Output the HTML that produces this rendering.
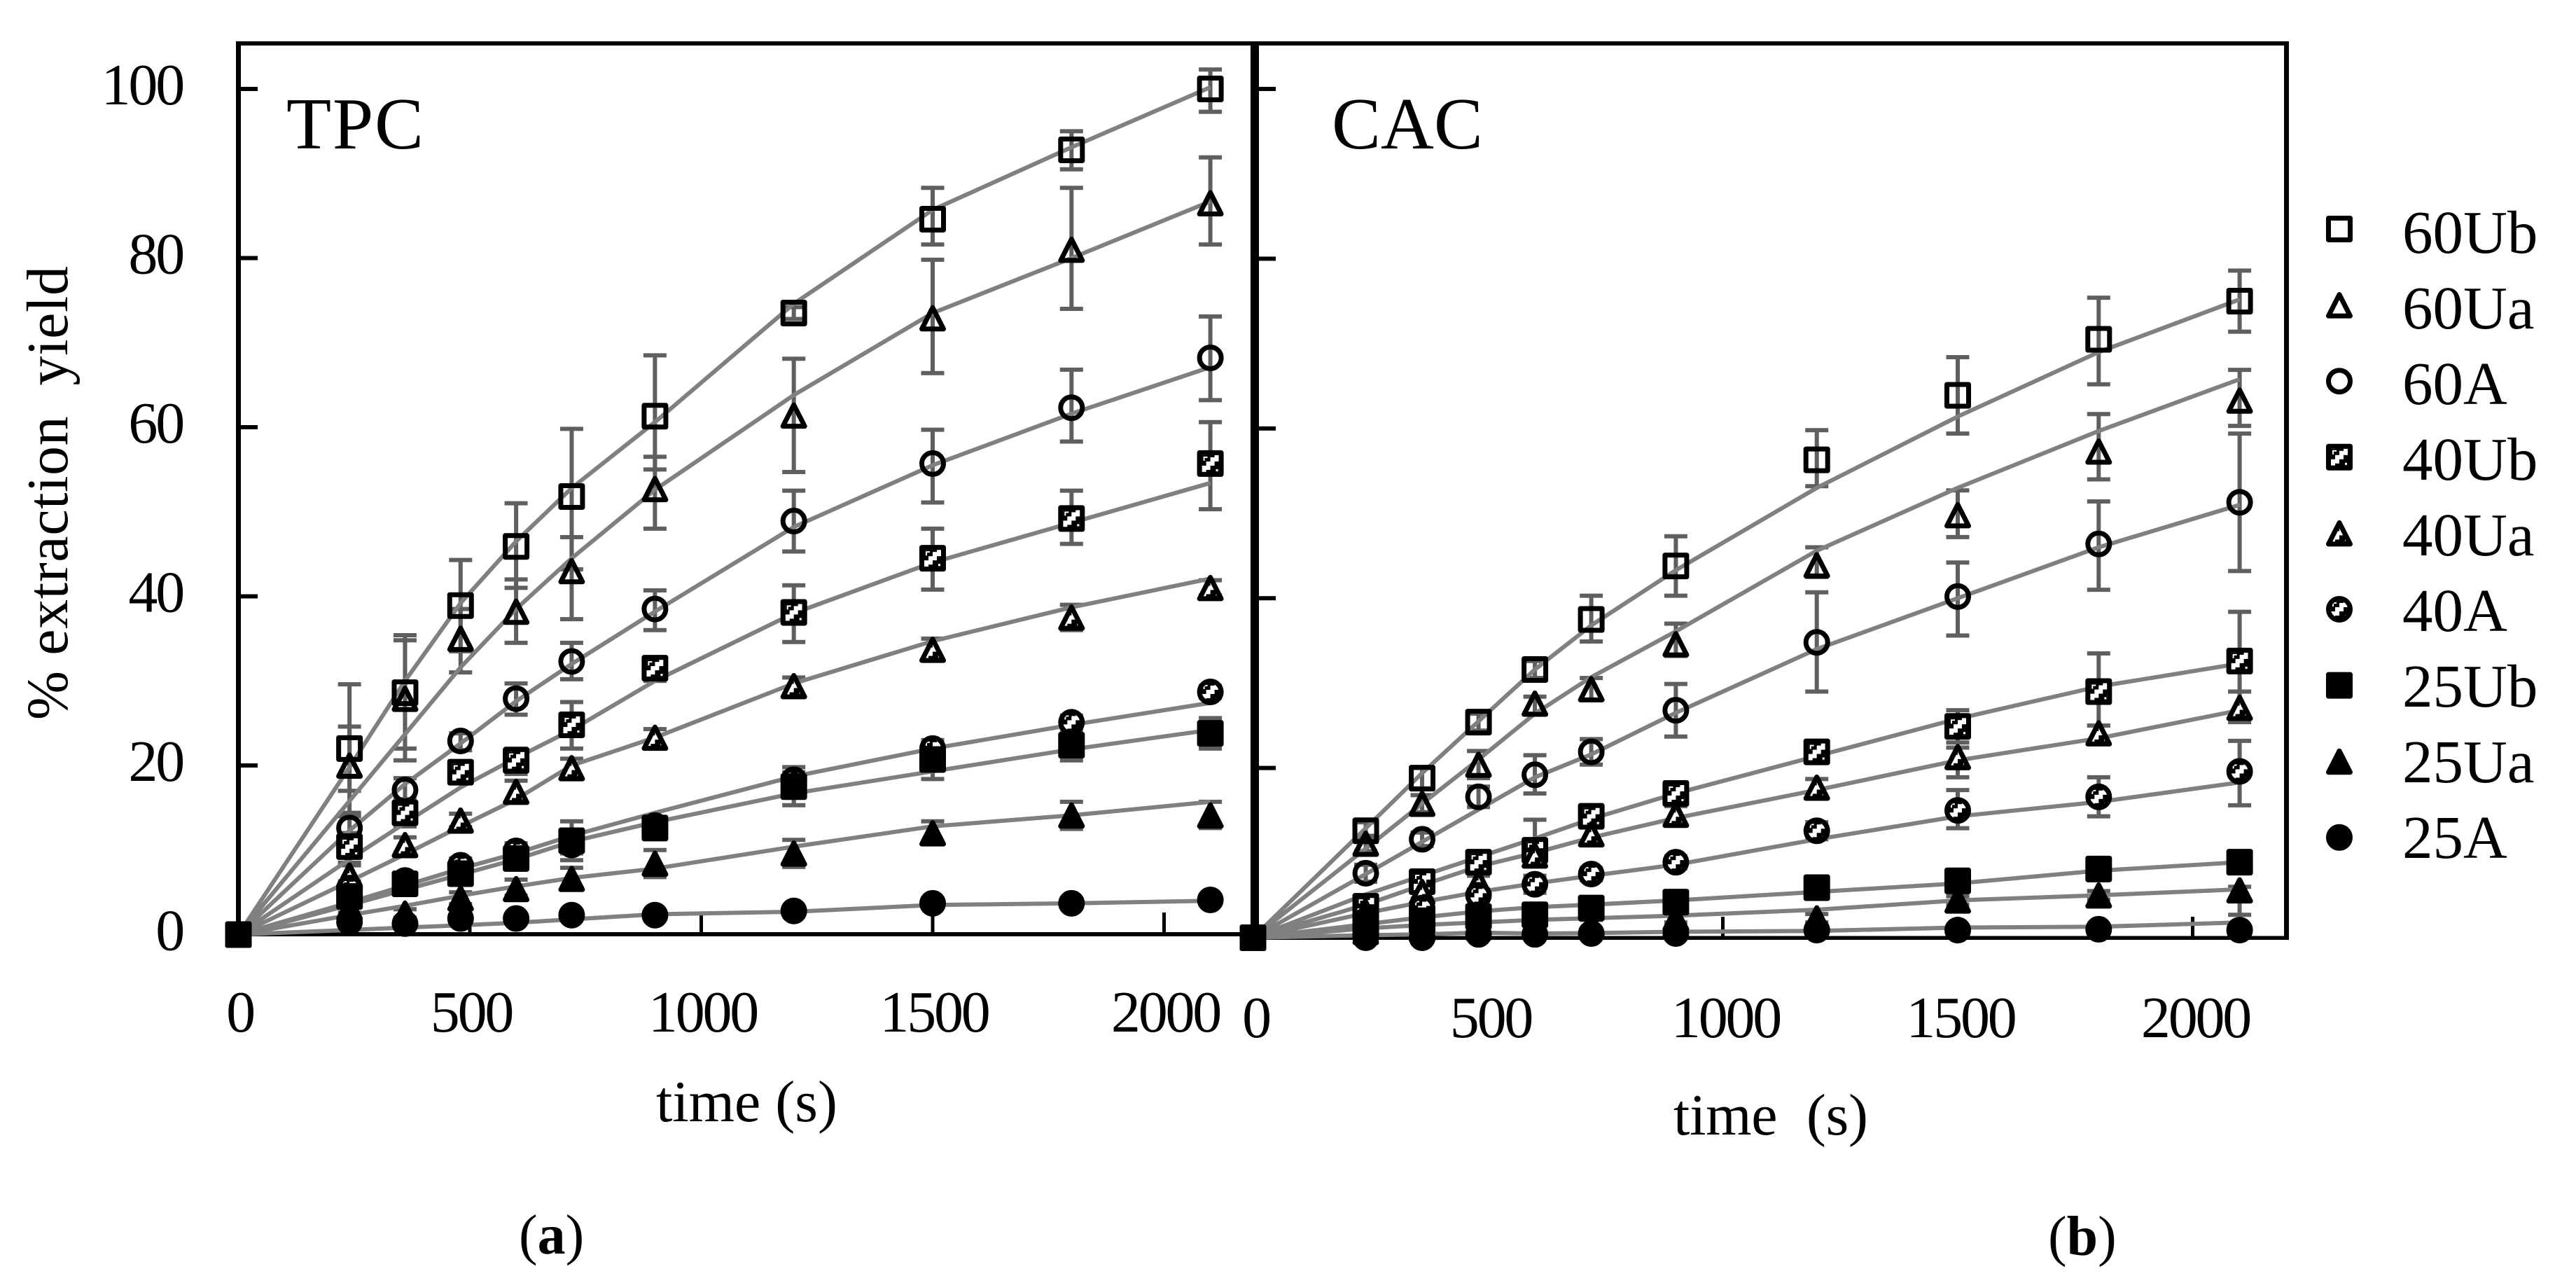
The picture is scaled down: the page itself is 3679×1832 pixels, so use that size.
<!DOCTYPE html>
<html lang="en">
<head>
<meta charset="utf-8">
<title>Extraction yield of TPC and CAC over time</title>
<style>
html,body{margin:0;padding:0;background:#fff;width:3679px;height:1832px;overflow:hidden}
svg{display:block;font-family:"Liberation Serif",serif;fill:#000}
.tick-text{font-size:84px;letter-spacing:-3.2px}
.label{font-size:84px;white-space:pre}
.legend-text{font-size:87px;white-space:pre}
.panel-title{font-size:105px}
.caption{font-size:80px}
</style>
</head>
<body>
<svg id="chart" xmlns="http://www.w3.org/2000/svg" width="3679" height="1832" viewBox="0 0 3679 1832">
  <defs>
    <pattern id="stair" patternUnits="userSpaceOnUse" x="-12" y="-12" width="24" height="24">
      <rect x="0" y="0" width="24" height="24" fill="#000"/>
      <polygon fill="#fff" points="0,24 0,15 6,15 6,9 12,9 12,3 18,3 18,0 24,0 24,9 18,9 18,15 12,15 12,21 6,21 6,24"/>
      <rect x="2" y="2" width="6" height="2" fill="#fff"/>
      <rect x="2" y="2" width="2" height="6" fill="#fff"/>
      <rect x="20" y="20" width="3" height="3" fill="#fff"/>
    </pattern>
  </defs>
  <g id="axes"></g>
  <g id="plot-a"></g>
  <g id="plot-b"></g>
  <g id="legend"></g>
  <text class="panel-title" x="409" y="212" textLength="196">TPC</text>
  <text class="panel-title" x="1902" y="212">CAC</text>
  <text class="label" transform="translate(96,1028) rotate(-90)" textLength="648">% extraction  yield</text>
  <text class="label" x="937" y="1601">time (s)</text>
  <text class="label" x="2390" y="1620" textLength="278">time  (s)</text>
  <text class="caption" x="741" y="1790">(<tspan font-weight="bold">a</tspan>)</text>
  <text class="caption" x="2925" y="1792">(<tspan font-weight="bold">b</tspan>)</text>
</svg>
<script>
const times=[0,240,360,480,600,720,900,1200,1500,1800,2100];
const seriesNames=["60Ub","60Ua","60A","40Ub","40Ua","40A","25Ub","25Ua","25A"];
const yTickValues=[0,20,40,60,80,100];
const xTickValues=[0,500,1000,1500,2000];

const tpc60Ub=[0,22,28.6,38.9,45.9,51.8,61.3,73.5,84.6,92.8,100];
const tpc60UbFit=[0,19.8,30,39.2,46.5,52.8,60.6,74.6,85.7,93.1,100.2];
const tpc60UbHi=[0,29.6,35.4,44.3,51,59.8,68.5,74.2,88.3,95,102.3];
const tpc60UbLo=[0,14.4,22,33.5,41,43.2,55,72.8,81.6,90.5,97.3];
const tpc60Ua=[0,20,27.9,35,38.2,43,52.7,61.4,72.9,81,86.5];
const tpc60UaFit=[0,15.8,23.7,31.6,38.5,44.5,52.6,63.8,73.5,80,86.7];
const tpc60UaHi=[0,24.6,34.8,38.5,42,47,56.5,68.1,79.8,88.3,91.9];
const tpc60UaLo=[0,17,20.6,31,34.5,37.3,48,54.7,66.4,74,81.6];
const tpc60A=[0,12.6,17.1,22.9,27.9,32.3,38.5,48.9,55.7,62.3,68.2];
const tpc60AFit=[0,12.3,17.8,22.6,27.6,32,38.2,48.2,55.5,61.6,67.1];
const tpc60AHi=[0,14,18.5,23.8,29.7,34.5,40.7,52.5,59.7,66.8,73.1];
const tpc60ALo=[0,11,15.5,21.8,26,30.2,36,45.3,51.1,58.3,63.2];
const tpc40Ub=[0,10.4,14.4,19.2,20.6,24.8,31.5,38.1,44.5,49.2,55.7];
const tpc40UbFit=[0,8.9,13.2,17.4,20.9,24.2,30,38,44,48.7,53.4];
const tpc40UbHi=[0,12,16,20.5,22,27.5,32.8,41.3,48,52.5,60.6];
const tpc40UbLo=[0,8.5,12.8,17.9,19,22,30,34.6,40.8,46.2,50.3];
const tpc40Ua=[0,7,10.6,13.5,16.9,19.7,23.3,29.4,33.7,37.5,41];
const tpc40UaFit=[0,6.3,9.5,12.8,16,20,23.3,29.7,34.7,38.7,42.1];
const tpc40UaHi=[0,8.2,11.5,14.3,18.2,20.8,24.3,30.4,35,39,41.9];
const tpc40UaLo=[0,5.8,9.7,12.7,15.6,18.6,22.3,28.4,32.5,36,40.1];
const tpc40A=[0,5.5,6.4,8.2,9.9,10.6,12.9,18.3,22,25.1,28.7];
const tpc40AFit=[0,3.8,5.8,7.8,9.6,11.7,14.4,18.7,22,24.8,27.4];
const tpc40AHi=[0,6.3,7.2,9,10.8,11.6,13.8,19.2,22.8,25.9,29.4];
const tpc40ALo=[0,4.7,5.6,7.4,9,9.6,12,17.4,21.2,24.3,28];
const tpc25Ub=[0,4.5,6,7.2,9,11.1,12.6,17.5,20.7,22.4,23.8];
const tpc25UbFit=[0,3.5,5.3,7.1,8.9,11,13.3,16.7,19.3,21.9,24.2];
const tpc25UbHi=[0,5.3,6.9,8.1,10,13.4,13.6,19.8,23,24.2,25.6];
const tpc25UbLo=[0,3.7,5.1,6.3,8,8.8,11.6,15.3,18.4,20.6,22];
const tpc25Ua=[0,3.2,2.5,4.3,5.4,6.6,8.4,9.6,12,14.1,14.1];
const tpc25UaFit=[0,2.3,3.4,4.6,5.7,6.7,7.8,10.4,12.8,14.1,15.7];
const tpc25UaHi=[0,3.8,3,5,6.5,7.9,10,11.2,13.4,15.7,15.7];
const tpc25UaLo=[0,2.6,2,3.6,4.6,5.4,6.8,8,10.8,12.5,12.6];
const tpc25A=[0,1.5,1.3,1.9,1.9,2.3,2.3,2.8,3.7,3.7,4.1];
const tpc25AFit=[0,0.55,0.83,1.1,1.4,1.8,2.4,2.7,3.5,3.7,4];
const tpc25AHi=[0,1.8,1.6,2.2,2.2,2.6,2.6,3.1,4,4,4.4];
const tpc25ALo=[0,1.2,1,1.6,1.6,2,2,2.5,3.4,3.4,3.8];

const cac60Ub=[0,12.6,18.8,25.4,31.6,37.5,43.8,56.3,63.9,70.5,75];
const cac60UbFit=[0,12.9,19.4,25.5,31.6,36.8,43.3,53,61.4,69,75.2];
const cac60UbHi=[0,13.6,20,26.4,32.6,40.3,47.3,59.8,68.4,75.4,78.6];
const cac60UbLo=[0,11.6,17.6,24.4,30.6,34.9,40.3,53.2,59.4,65.2,71.4];
const cac60Ua=[0,11.1,15.8,20.4,27.6,29.3,34.6,43.9,49.8,57.3,63.3];
const cac60UaFit=[0,10.5,15.8,21,26.4,30.7,36.1,45.6,53,59.7,65.8];
const cac60UaHi=[0,12,16.8,22,28.4,30.6,37,46,52.7,61.7,66.9];
const cac60UaLo=[0,10.2,14.8,18.8,26.4,28,33.2,42.5,47.2,54,60.3];
const cac60A=[0,7.6,11.6,16.6,19.2,21.9,26.8,34.8,40.2,46.4,51.3];
const cac60AFit=[0,7.5,11.3,15.1,18.9,21.6,26.5,34,40,46,51];
const cac60AHi=[0,8.6,12.4,17.8,21.5,23.4,29.9,40.7,44.2,51.4,59.4];
const cac60ALo=[0,6.6,10.8,15.4,17,20.4,23.7,29,35.6,41,43.2];
const cac40Ub=[0,3.7,6.6,8.9,10.3,14.3,17,21.9,24.9,29,32.6];
const cac40UbFit=[0,5.1,7.3,9.5,11.7,14,17,21.4,25.8,29.6,32.3];
const cac40UbHi=[0,4.6,7.6,9.9,13.9,15.3,18,23.2,26.8,33.5,38.4];
const cac40UbLo=[0,2.8,5.6,7.9,8.7,13.3,16,20.6,23,25,29];
const cac40Ua=[0,3,5.4,6.5,9.7,12.2,14.5,17.7,21.3,24.1,27.1];
const cac40UaFit=[0,3.9,6.2,8.4,10,11.8,14.1,17.4,20.9,23.5,26.8];
const cac40UaHi=[0,3.8,6.2,7.3,10.7,13.2,15.5,18.7,22.4,25,29];
const cac40UaLo=[0,2.2,4.6,5.7,8.7,11.2,13.5,16.7,18.9,23,25.4];
const cac40A=[0,2,3.5,5,6.3,7.5,8.9,12.6,15,16.6,19.6];
const cac40AFit=[0,2.9,4.2,5.4,6.4,7.3,8.6,11.6,14.3,16,18.3];
const cac40AHi=[0,2.6,4.1,5.6,7.3,8.2,9.6,13.6,17.4,18.9,23.2];
const cac40ALo=[0,1.4,2.9,4.4,5.3,6.8,8.2,11.6,12.9,14.3,15.6];
const cac25Ub=[0,1.5,2,2.5,2.7,3.5,4.2,5.9,6.7,8.1,8.9];
const cac25UbFit=[0,1.6,2.4,3.1,3.6,3.9,4.4,5.4,6.4,7.9,8.9];
const cac25UbHi=[0,2,2.5,3,3.2,4,4.7,6.4,7.2,8.6,9.4];
const cac25UbLo=[0,1,1.5,2,2.2,3,3.7,5.4,6.2,7.6,8.4];
const cac25Ua=[0,0.7,1,1.2,1.5,1.6,2.3,2.3,4.4,5,5.6];
const cac25UaFit=[0,1.1,1.5,1.8,2.1,2.3,2.6,3.3,4.4,5,5.7];
const cac25UaHi=[0,1.2,1.5,1.7,2,2.1,2.8,2.8,4.9,5.5,6];
const cac25UaLo=[0,0.2,0.5,0.7,1,1.1,1.8,1.8,3.9,4.5,2.7];
const cac25A=[0,0,0,0.4,0.4,0.5,0.5,0.9,0.9,1,0.9];
const cac25AFit=[0,0.3,0.4,0.6,0.5,0.55,0.7,0.8,1.2,1.3,1.8];
const cac25AHi=[0,0.3,0.3,0.7,0.7,0.8,0.8,1.2,1.2,1.3,1.2];
const cac25ALo=[0,-0.3,-0.3,0.1,0.1,0.2,0.2,0.6,0.6,0.7,0.6];

const tpcMarks=[tpc60Ub,tpc60Ua,tpc60A,tpc40Ub,tpc40Ua,tpc40A,tpc25Ub,tpc25Ua,tpc25A];
const tpcFits=[tpc60UbFit,tpc60UaFit,tpc60AFit,tpc40UbFit,tpc40UaFit,tpc40AFit,tpc25UbFit,tpc25UaFit,tpc25AFit];
const tpcHighs=[tpc60UbHi,tpc60UaHi,tpc60AHi,tpc40UbHi,tpc40UaHi,tpc40AHi,tpc25UbHi,tpc25UaHi,tpc25AHi];
const tpcLows=[tpc60UbLo,tpc60UaLo,tpc60ALo,tpc40UbLo,tpc40UaLo,tpc40ALo,tpc25UbLo,tpc25UaLo,tpc25ALo];
const cacMarks=[cac60Ub,cac60Ua,cac60A,cac40Ub,cac40Ua,cac40A,cac25Ub,cac25Ua,cac25A];
const cacFits=[cac60UbFit,cac60UaFit,cac60AFit,cac40UbFit,cac40UaFit,cac40AFit,cac25UbFit,cac25UaFit,cac25AFit];
const cacHighs=[cac60UbHi,cac60UaHi,cac60AHi,cac40UbHi,cac40UaHi,cac40AHi,cac25UbHi,cac25UaHi,cac25AHi];
const cacLows=[cac60UbLo,cac60UaLo,cac60ALo,cac40UbLo,cac40UaLo,cac40ALo,cac25UbLo,cac25UaLo,cac25ALo];

const NS='http://www.w3.org/2000/svg';
function make(tag,attrs,parent){
  const el=document.createElementNS(NS,tag);
  for(const k in attrs){el.setAttribute(k,attrs[k]);}
  parent.appendChild(el);
  return el;
}
function xA(t){return 340.5+0.661*t;}
function yA(v){return 1334.5-12.075*v;}
function xB(t){return 1789.5+0.671*t;}
function yB(v){return 1339-12.12*v;}

function drawMarker(parent,name,cx,cy){
  const group=make('g',{transform:'translate('+cx+','+cy+')'},parent);
  
  
  const temp=name.slice(0,2);
  const fill=temp==='60'?'none':(temp==='40'?'url(#stair)':'#000');
  const base={fill:fill,stroke:'#000','stroke-width':7,'stroke-linejoin':'round'};
  let shape;
  if(name.endsWith('Ub')){
    shape=make('rect',Object.assign({x:-15.5,y:-15.5,width:31,height:31},base),group);
  }else if(name.endsWith('Ua')){
    shape=make('polygon',Object.assign({points:'0,-15 15.5,15.5 -15.5,15.5'},base),group);
  }else{
    shape=make('circle',Object.assign({r:15.5},base),group);
  }
  
  
}

function drawPanel(parent,sx,sy,marks,fits,highs,lows,panelName){
  seriesNames.forEach(function(name,s){
    const bars=make('g',{},parent);
    
    
    times.forEach(function(t,i){
      if(highs[s][i]===lows[s][i]){return;}
      const x=sx(t);
      const yh=sy(highs[s][i]);
      const yl=sy(lows[s][i]);
      const bar=make('path',{d:'M'+x+' '+yh+'V'+yl+'M'+(x-16.5)+' '+yh+'H'+(x+16.5)+'M'+(x-16.5)+' '+yl+'H'+(x+16.5),stroke:'#5f5f5f','stroke-width':6,fill:'none'},bars);
      
      
    });
  });
  seriesNames.forEach(function(name,s){
    const pts=times.map(function(t,i){return sx(t)+','+sy(fits[s][i]);}).join(' ');
    const line=make('polyline',{points:pts,fill:'none',stroke:'#808080','stroke-width':6,'stroke-linejoin':'round'},parent);
    
    
  });
  seriesNames.forEach(function(name,s){
    const group=make('g',{},parent);
    
    
    times.forEach(function(t,i){
      drawMarker(group,name,sx(t),sy(marks[s][i]));
    });
  });
}

function axisRect(x,y,w,h,name){
  const r=make('rect',{x:x,y:y,width:w,height:h,fill:'#000'},document.getElementById('axes'));
  
  
}
function tickText(x,y,txt,anchor,name){
  const el=make('text',{x:x,y:y,'text-anchor':anchor,'class':'tick-text'},document.getElementById('axes'));
  el.textContent=txt;
  
  
}

axisRect(337,59,2932,6,'top-border');
axisRect(337,59,7,1278,'y-axis-line-a');
axisRect(337,1331,1455,6,'x-axis-line-a');
axisRect(1786,59,12,1280,'y-axis-line-b');
axisRect(1786,1336.5,1483,5.5,'x-axis-line-b');
axisRect(3262,59,7,1283,'right-border');

yTickValues.forEach(function(v){
  if(v>0){
    axisRect(344,yA(v)-3,24,6,'y-tick-a');
    axisRect(1798,yB(v)-3,24,6,'y-tick-b');
  }
  tickText(261,yA(v)+22,String(v),'end','y-tick-label');
});
xTickValues.forEach(function(t){
  if(t>0){
    axisRect(xA(t)-2.5,1303,5,28,'x-tick-a');
    axisRect(xB(t)-2.5,1309,5,28,'x-tick-b');
  }
  tickText(xA(t)+2,1473,String(t),'middle','x-tick-label-a');
  tickText(xB(t)+4,1481,String(t),'middle','x-tick-label-b');
});

drawPanel(document.getElementById('plot-a'),xA,yA,tpcMarks,tpcFits,tpcHighs,tpcLows,'tpc');
drawPanel(document.getElementById('plot-b'),xB,yB,cacMarks,cacFits,cacHighs,cacLows,'cac');

seriesNames.forEach(function(name,i){
  const legendRoot=document.getElementById('legend');
  const entry=make('g',{},legendRoot);
  
  
  drawMarker(entry,name,3341,327+108.6*i);
  const label=make('text',{x:3431,y:361+108*i,'class':'legend-text'},entry);
  label.textContent=name;
  
  
});
</script>
</body>
</html>
